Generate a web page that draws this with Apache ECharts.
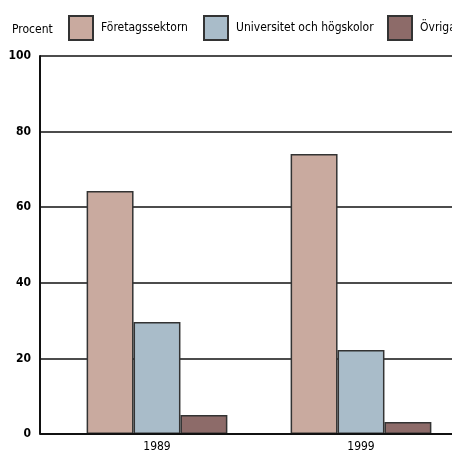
<!DOCTYPE html>
<html>
<head>
<meta charset="utf-8">
<script src="https://cdn.jsdelivr.net/npm/echarts@6/dist/echarts.min.js"></script>
<style>
html, body { margin: 0; padding: 0; background: #fff; }
#main { width: 452px; height: 459px; }
</style>
</head>
<body>
<div id="main"></div>
<script>
var years = ['1989', '1999'];
var seriesNames = ['Företagssektorn', 'Universitet och högskolor', 'Övriga'];
var foretag = [64.3, 74.1];
var universitet = [29.6, 22.2];
var ovriga = [5.0, 3.2];
var yTicks = [0, 20, 40, 60, 80, 100];

var colors = ['#c9aa9f', '#a9bcc9', '#8d6b69'];
var font = "'DejaVu Sans Condensed', 'Liberation Sans Narrow', sans-serif";

var chart = echarts.init(document.getElementById('main'));

function legendFor(i, left) {
	return {
		data: [seriesNames[i]],
		left: left,
		top: 15,
		padding: 0,
		itemWidth: 24,
		itemHeight: 24,
		itemGap: 0,
		icon: 'rect',
		textStyle: { fontFamily: font, fontSize: 12, color: '#000', padding: [0, 0, 4, 3] }
	}
}

chart.setOption({
	animation: false,
	color: colors,
	graphic: [{
		type: 'text',
		left: 12,
		top: 24,
		style: { text: 'Procent', font: '12px ' + font, fill: '#000' }
	}],
	legend: [legendFor(0, 68), legendFor(1, 203), legendFor(2, 387)],
	grid: [
		{ left: 40, right: 0, top: 56, bottom: 25 },   // axes + grid lines
		{ left: 55, width: 408, top: 56, bottom: 25, outerBoundsMode: 'none' }  // bars
	],
	xAxis: [
		{
			gridIndex: 0, type: 'value', min: 0, max: 1, show: false
		},
		{
			gridIndex: 1, type: 'category', data: years,
			axisLine: { show: false },
			axisTick: { show: false },
			axisLabel: { fontFamily: font, fontSize: 12, color: '#000', margin: 7 }
		}
	],
	yAxis: [
		{
			gridIndex: 0, type: 'value', min: 0, max: 100, interval: 20,
			axisLine: { show: true, lineStyle: { color: '#111', width: 2 } },
			axisTick: { show: false },
			axisLabel: {
				fontFamily: font, fontSize: 12, fontWeight: 'bold', color: '#000', margin: 9,
				formatter: function (v) { return yTicks.indexOf(v) >= 0 ? String(v) : '' }
			},
			splitLine: { show: true, lineStyle: { color: '#111', width: 1.5 } }
		},
		{
			gridIndex: 1, type: 'value', min: 0, max: 100, show: false
		}
	],
	series: [
		{
			name: seriesNames[0], type: 'bar', xAxisIndex: 1, yAxisIndex: 1,
			data: foretag, barGap: '0%', barCategoryGap: '31%',
			itemStyle: { color: colors[0], borderColor: '#333', borderWidth: 1.5 }
		},
		{
			name: seriesNames[1], type: 'bar', xAxisIndex: 1, yAxisIndex: 1,
			data: universitet,
			itemStyle: { color: colors[1], borderColor: '#333', borderWidth: 1.5 }
		},
		{
			name: seriesNames[2], type: 'bar', xAxisIndex: 1, yAxisIndex: 1,
			data: ovriga,
			itemStyle: { color: colors[2], borderColor: '#333', borderWidth: 1.5 }
		},
		{
			// bottom axis line drawn along y=0 across the whole plot
			type: 'line', xAxisIndex: 0, yAxisIndex: 0, silent: true,
			data: [[0, 0], [1, 0]], symbol: 'none',
			lineStyle: { color: '#111', width: 2 }
		}
	]
});
</script>
</body>
</html>
